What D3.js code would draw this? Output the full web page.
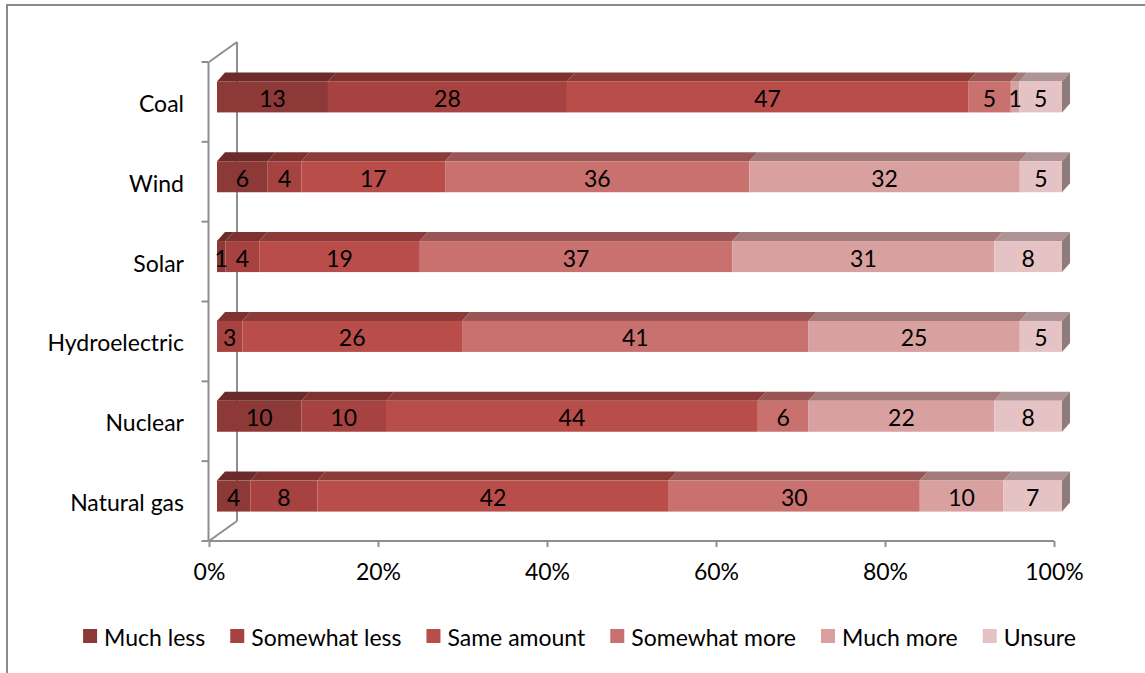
<!DOCTYPE html>
<html>
<head>
<meta charset="utf-8">
<script src="https://cdn.jsdelivr.net/npm/d3@7"></script>
<style>
  html, body { margin: 0; padding: 0; background: #fff; }
  svg { display: block; font-family: Lato, "Open Sans", sans-serif; }
</style>
</head>
<body>
<svg id="chart" width="1145" height="673"></svg>
<script>
// Survey: how much should each energy source be used
const categories = ["Coal", "Wind", "Solar", "Hydroelectric", "Nuclear", "Natural gas"];
const seriesNames = ["Much less", "Somewhat less", "Same amount", "Somewhat more", "Much more", "Unsure"];
const muchLess     = [13, 6, 1, 0, 10, 4];
const somewhatLess = [28, 4, 4, 3, 10, 8];
const sameAmount   = [47, 17, 19, 26, 44, 42];
const somewhatMore = [5, 36, 37, 41, 6, 30];
const muchMore     = [1, 32, 31, 25, 22, 10];
const unsure       = [5, 5, 8, 5, 8, 7];
const tickValues = [0, 0.2, 0.4, 0.6, 0.8, 1];
const colors = ["#8c3937", "#a6423f", "#b94d4a", "#c9716f", "#d8a09f", "#e5c3c4"];

const seriesValues = [muchLess, somewhatLess, sameAmount, somewhatMore, muchMore, unsure];
const FS = 23;

const svg = d3.select("#chart");
const W = 1145, H = 673;

// outer chart frame
svg.append("path")
  .attr("d", `M7,${H + 2} V5 H${W + 2}`)
  .attr("fill", "none").attr("stroke", "#8a8a8a").attr("stroke-width", 2);

// plot geometry
const x = d3.scaleLinear().domain([0, 1]).range([209, 1054]);
const y = d3.scaleBand().domain(categories).range([62, 541]).paddingInner(0).paddingOuter(0);
const wallDX = 28, wallDY = -20;       // depth of the back wall
const barDX = 8, barDY = -5;           // front face of bars set back into the depth
const topDX = 8, topDY = -9;           // bar thickness in depth
const barH = 31;
const axisColor = "#8e8e8e";

const gAxes = svg.append("g");
// back vertical wall line and diagonals
gAxes.append("line")
  .attr("x1", x(0) + wallDX).attr("x2", x(0) + wallDX)
  .attr("y1", y.range()[0] + wallDY).attr("y2", y.range()[1] + wallDY)
  .attr("stroke", axisColor).attr("stroke-width", 2);
gAxes.append("line")
  .attr("x1", x(0)).attr("y1", y.range()[0])
  .attr("x2", x(0) + wallDX).attr("y2", y.range()[0] + wallDY)
  .attr("stroke", axisColor).attr("stroke-width", 2);
gAxes.append("line")
  .attr("x1", x(0)).attr("y1", y.range()[1])
  .attr("x2", x(0) + wallDX).attr("y2", y.range()[1] + wallDY)
  .attr("stroke", axisColor).attr("stroke-width", 2);

// left category axis (front edge) with boundary ticks
const yAxis = d3.axisLeft(y).tickSize(0).tickPadding(0).tickFormat("");
const gy = gAxes.append("g").attr("transform", `translate(${x(0) - 0.5},0)`).call(yAxis);
gy.select(".domain").attr("stroke", axisColor).attr("stroke-width", 2).attr("d", `M0,${y.range()[0]}V${y.range()[1]}`);
const boundaries = categories.map(c => y(c)).concat([y.range()[1]]);
gy.selectAll(".bound").data(boundaries).join("line")
  .attr("class", "bound")
  .attr("x1", -7).attr("x2", 0)
  .attr("y1", d => d).attr("y2", d => d)
  .attr("stroke", axisColor).attr("stroke-width", 2);

// category labels
svg.append("g").selectAll("text").data(categories).join("text")
  .attr("x", 184)
  .attr("y", d => y(d) + y.bandwidth() / 2 + 1)
  .attr("text-anchor", "end")
  .attr("dominant-baseline", "central")
  .attr("font-size", FS)
  .attr("fill", "#000")
  .text(d => d);

// bottom value axis
const xAxis = d3.axisBottom(x).tickValues(tickValues).tickSize(6).tickPadding(17)
  .tickFormat(d3.format(".0%"));
const gx = svg.append("g").attr("transform", `translate(0,${y.range()[1]})`).call(xAxis);
gx.select(".domain").attr("stroke", axisColor).attr("stroke-width", 2)
  .attr("d", `M${x(0)},0H${x(1)}`);
gx.selectAll(".tick line").attr("stroke", axisColor).attr("stroke-width", 2);
gx.selectAll(".tick text").attr("font-size", FS).attr("fill", "#000")
  .attr("font-family", "Lato, 'Open Sans', sans-serif");

// stacked 100% data
const rows = categories.map((c, i) => {
  const vals = seriesValues.map(s => s[i]);
  const total = d3.sum(vals);
  let acc = 0;
  return vals.map((v, k) => {
    const seg = { cat: c, series: k, value: v, x0: acc / total, x1: (acc + v) / total };
    acc += v;
    return seg;
  });
});

const shade = (c, f) => {
  const r = d3.rgb(c);
  return d3.rgb(r.r * f, r.g * f, r.b * f).formatHex();
};

const gBars = svg.append("g");
rows.forEach(segs => {
  const cat = segs[0].cat;
  const cy = y(cat) + y.bandwidth() / 2 + barDY;
  const yTop = cy - barH / 2, yBot = cy + barH / 2;
  const g = gBars.append("g");
  const visible = segs.filter(s => s.value > 0);

  // top faces
  g.selectAll("path.top").data(visible).join("path")
    .attr("class", "top")
    .attr("d", s => {
      const a = x(s.x0) + barDX, b = x(s.x1) + barDX;
      return `M${a},${yTop}L${b},${yTop}L${b + topDX},${yTop + topDY}L${a + topDX},${yTop + topDY}Z`;
    })
    .attr("fill", s => shade(colors[s.series], 0.76));

  // right end face
  const last = visible[visible.length - 1];
  const e = x(last.x1) + barDX;
  g.append("path")
    .attr("d", `M${e},${yTop}L${e + topDX},${yTop + topDY}L${e + topDX},${yBot + topDY}L${e},${yBot}Z`)
    .attr("fill", shade(colors[last.series], 0.63));

  // front faces
  g.selectAll("rect.front").data(visible).join("rect")
    .attr("class", "front")
    .attr("x", s => x(s.x0) + barDX)
    .attr("y", yTop)
    .attr("width", s => x(s.x1) - x(s.x0))
    .attr("height", barH)
    .attr("fill", s => colors[s.series]);

  // value labels
  g.selectAll("text").data(visible).join("text")
    .attr("x", s => (x(s.x0) + x(s.x1)) / 2 + barDX)
    .attr("y", cy + 1)
    .attr("text-anchor", "middle")
    .attr("dominant-baseline", "central")
    .attr("font-size", FS)
    .attr("fill", "#000")
    .text(s => s.value);
});

// legend
const legend = svg.append("g");
const items = legend.selectAll("g").data(seriesNames).join("g");
items.append("rect").attr("width", 14).attr("height", 14).attr("y", -7)
  .attr("fill", (d, i) => colors[i]);
items.append("text").attr("x", 21).attr("y", 1)
  .attr("dominant-baseline", "central").attr("font-size", FS).attr("fill", "#000")
  .text(d => d);
const legendGap = 25;
let cx = 0;
items.each(function () {
  const node = d3.select(this);
  node.attr("transform", `translate(${cx},0)`);
  const w = node.select("text").node().getComputedTextLength();
  cx += 21 + w + legendGap;
});
const legendW = cx - legendGap;
legend.attr("transform", `translate(${579.5 - legendW / 2},636)`);
</script>
</body>
</html>
